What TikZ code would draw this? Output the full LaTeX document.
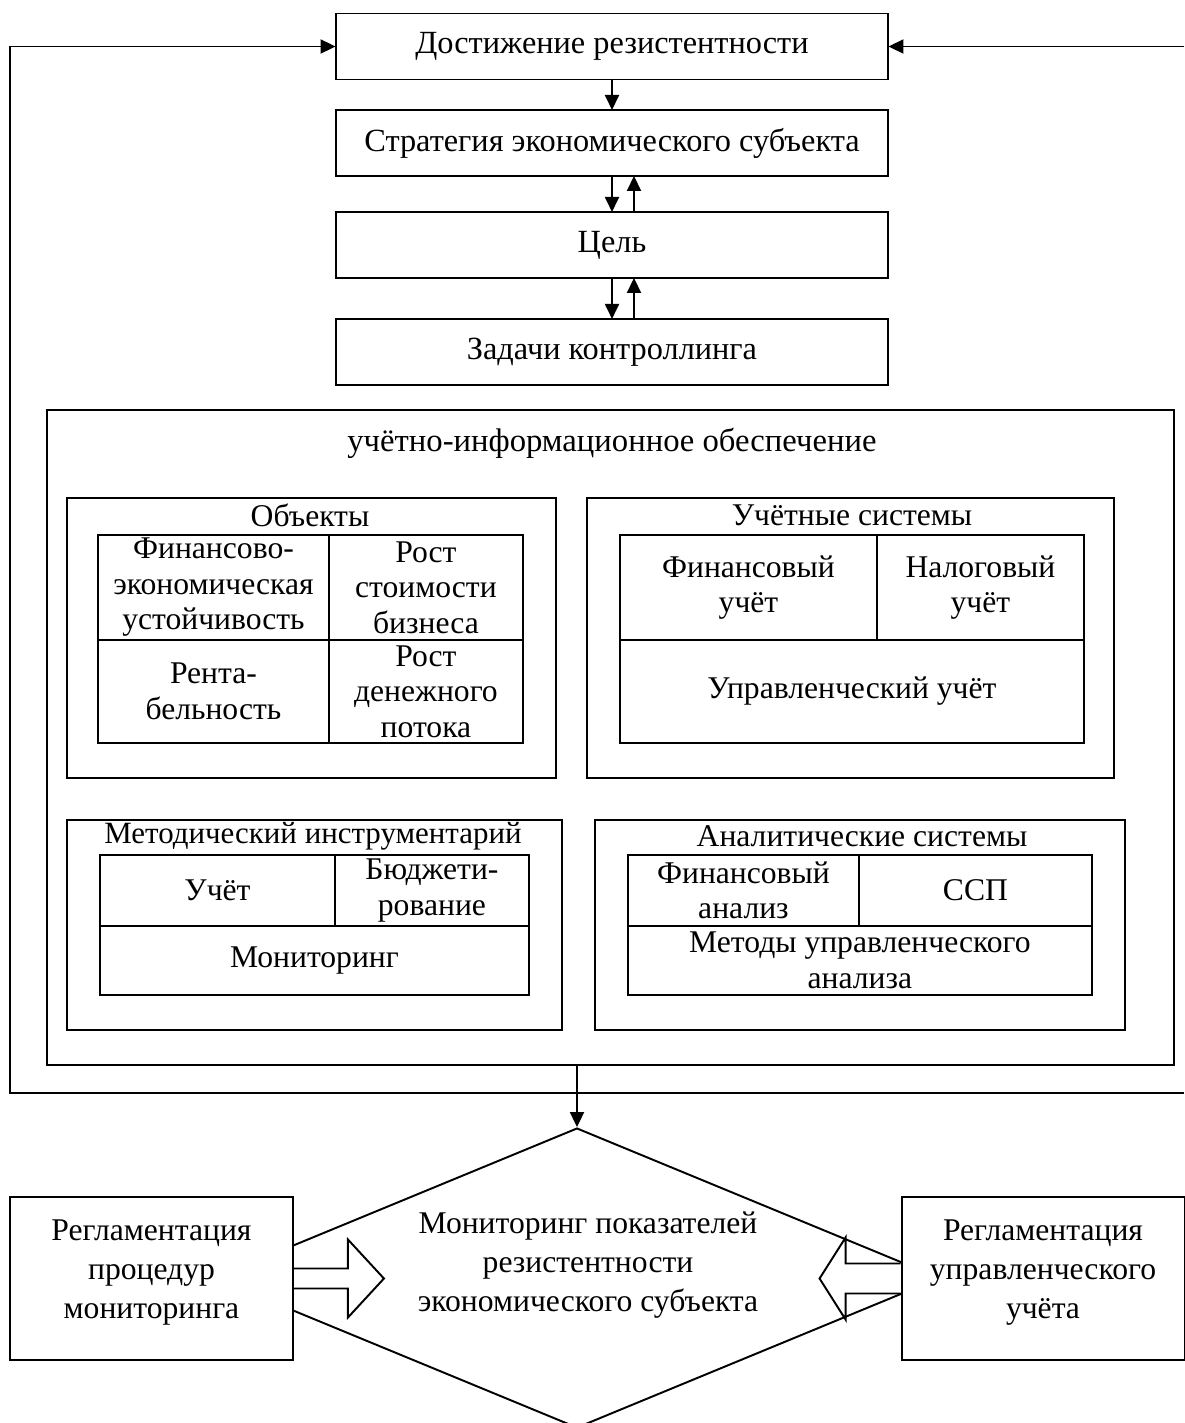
\documentclass[tikz,border=0pt]{standalone}
\usepackage{fontspec}
\setmainfont{Liberation Serif}
\usetikzlibrary{shapes,arrows.meta,positioning}

\begin{document}
\begin{tikzpicture}[x=0.02cm, y=-0.02cm, line width=1.1pt,
    >={Triangle[length=0.3cm,width=0.28cm]},
    topbox/.style={draw, rectangle, fill=white, minimum width=11.06cm, minimum height=1.32cm, inner sep=0pt, outer sep=0pt, font=\fontsize{18.4}{20}\selectfont},
    grp/.style={draw, rectangle, inner sep=0pt},
    ttl/.style={inner sep=0pt, font=\fontsize{18}{20}\selectfont},
    cell/.style={draw, rectangle, align=center, inner sep=0pt, outer sep=0pt, anchor=north west, font=\fontsize{18}{20.2}\selectfont},
    sidebox/.style={draw, rectangle, fill=white, align=center, inner sep=0pt, minimum width=5.66cm, minimum height=3.26cm, font=\fontsize{18}{22.3}\selectfont}]
  \useasboundingbox (0,0) rectangle (1184,1423);

  % top chain
  \node [topbox] (dost) at (612,46.5) {Достижение резистентности};
  \node [topbox, below=0.61cm of dost] (strat) {Стратегия экономического субъекта};
  \node [topbox, below=0.72cm of strat] (cel) {Цель};
  \node [topbox, below=0.82cm of cel] (zad) {Задачи контроллинга};
  \path [->]
    (dost) edge (strat)
    (strat) edge (cel)
    ([xshift=0.44cm]cel.north) edge ([xshift=0.44cm]strat.south)
    (cel) edge (zad)
    ([xshift=0.44cm]zad.north) edge ([xshift=0.44cm]cel.south)
  ;

  % accounting and information support
  \node [grp, minimum width=22.54cm, minimum height=13.1cm] (uchet) at (610.5,737.5) {};
  \node [ttl, font=\fontsize{18.6}{20}\selectfont] (uchetT) at (612,443) {учётно-информационное обеспечение};

  \node [grp, minimum width=9.78cm, minimum height=5.6cm] (obj) at (311.5,638) {};
  \node [ttl] (objT) at (310,515) {Объекты};
  \node [cell, minimum width=4.62cm, minimum height=2.1cm] (fin) at (98,535) {Финансово-\\экономическая\\устойчивость};
  \node [cell, minimum width=3.88cm, minimum height=2.1cm] (rost) at (fin.north east) {Рост\\стоимости\\бизнеса};
  \node [cell, minimum width=4.62cm, minimum height=2.06cm] (rent) at (fin.south west) {Рента-\\бельность};
  \node [cell, minimum width=3.88cm, minimum height=2.06cm] (den) at (rent.north east) {Рост\\денежного\\потока};

  \node [grp, minimum width=10.54cm, minimum height=5.6cm] (usys) at (850.5,638) {};
  \node [ttl] (usysT) at (852,515) {Учётные системы};
  \node [cell, minimum width=5.14cm, minimum height=2.1cm] (finu) at (620,535) {Финансовый\\учёт};
  \node [cell, minimum width=4.14cm, minimum height=2.1cm] (nalu) at (finu.north east) {Налоговый\\учёт};
  \node [cell, minimum width=9.28cm, minimum height=2.06cm] (upru) at (finu.south west) {Управленческий учёт};

  \node [grp, minimum width=9.9cm, minimum height=4.2cm] (met) at (314.5,925) {};
  \node [ttl, font=\fontsize{17.6}{20}\selectfont] (metT) at (313,836) {Методический инструментарий};
  \node [cell, minimum width=4.7cm, minimum height=1.42cm] (uch) at (100,855) {Учёт};
  \node [cell, minimum width=3.88cm, minimum height=1.42cm] (bud) at (uch.north east) {Бюджети-\\рование};
  \node [cell, minimum width=8.58cm, minimum height=1.38cm] (moni) at (uch.south west) {Мониторинг};

  \node [grp, minimum width=10.6cm, minimum height=4.2cm] (anal) at (860,925) {};
  \node [ttl] (analT) at (862,836) {Аналитические системы};
  \node [cell, minimum width=4.62cm, minimum height=1.42cm] (fina) at (628,855) {Финансовый\\анализ};
  \node [cell, minimum width=4.66cm, minimum height=1.42cm] (ssp) at (fina.north east) {ССП};
  \node [cell, minimum width=9.28cm, minimum height=1.38cm] (mua) at (fina.south west) {Методы управленческого\\анализа};

  % feedback loop
  \coordinate (fbl) at (10,1093);
  \coordinate (fbr) at (1184,1093);
  \coordinate (fbtr) at (1184,46.5);
  \draw [->] (fbr) -- (fbl) |- (dost.west);
  \draw [->] (fbtr) -- (dost.east);

  % monitoring
  \node [draw, diamond, minimum width=14.52cm, minimum height=6cm, inner sep=0pt] (romb) at (577,1278) {};
  \node [ttl, align=center, font=\fontsize{18}{22.3}\selectfont] (rombT) at (588,1265) {Мониторинг показателей\\резистентности\\экономического субъекта};
  \draw [->] (romb.north |- uchet.south) -- (romb.north);

  \node [sidebox] (regl1) at (151.5,1278.5) {Регламентация\\процедур\\мониторинга\\[-0.42cm]};
  \node [sidebox] (regl2) at (1043,1278.5) {Регламентация\\управленческого\\учёта\\[-0.42cm]};
  \draw (regl1.east) ++(0,-10) -- ++(54,0) -- ++(0,-29) -- ++(36,39) -- ++(-36,39) -- ++(0,-29) -- ++(-54,0);
  \draw (regl2.west) ++(0,-15) -- ++(-55,0) -- ++(0,-26) -- ++(-26,41) -- ++(26,41) -- ++(0,-26) -- ++(55,0);
\end{tikzpicture}
\end{document}
